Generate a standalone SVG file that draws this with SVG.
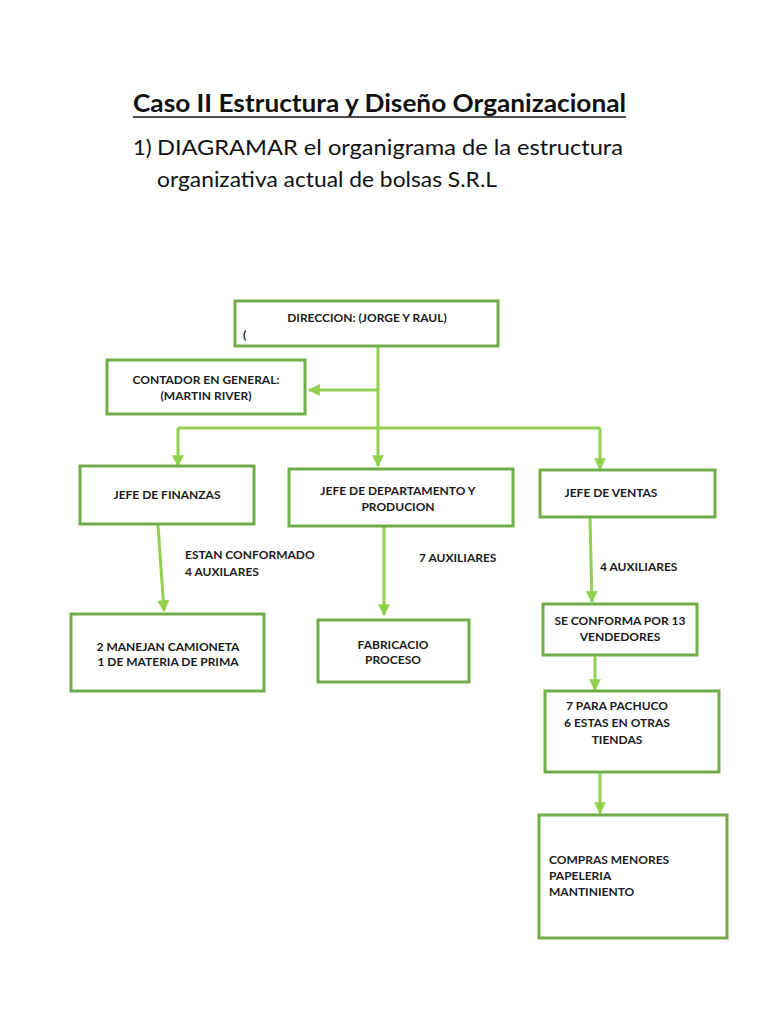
<svg xmlns="http://www.w3.org/2000/svg" width="768" height="1024" viewBox="0 0 768 1024">
<style>
.box{fill:#fff;stroke:#70AD47;stroke-width:3}
.c{fill:none;stroke:#92D050;stroke-width:3}
.t{font-family:Lato,"Open Sans",sans-serif;font-weight:bold;font-size:12px;fill:#1b1b1b}
.m{text-anchor:middle}
.h{font-family:Lato,"Open Sans",sans-serif;fill:#111}
</style>
<defs>
<marker id="ah" viewBox="0 0 10 10" refX="9" refY="5" markerWidth="4" markerHeight="4" orient="auto" markerUnits="strokeWidth">
<path d="M0,0 L10,5 L0,10 z" fill="#92D050"/>
</marker>
</defs>
<rect width="768" height="1024" fill="#fff"/>
<g id="title">
<text class="h" x="133" y="112" font-size="24" font-weight="bold" textLength="493" lengthAdjust="spacingAndGlyphs">Caso II Estructura y Diseño Organizacional</text>
<line x1="133" y1="117" x2="626" y2="117" stroke="#111" stroke-width="1.6"/>
<text class="h" x="133" y="155" font-size="22">1)</text>
<text class="h" x="157" y="155" font-size="22" textLength="466" lengthAdjust="spacingAndGlyphs">DIAGRAMAR el organigrama de la estructura</text>
<text class="h" x="157" y="187" font-size="22" textLength="340" lengthAdjust="spacingAndGlyphs">organizativa actual de bolsas S.R.L</text>
</g>
<g id="connectors">
<path class="c" d="M378,346 V428"/>
<path class="c" d="M378,390 H309" marker-end="url(#ah)"/>
<path class="c" d="M178,428 H600"/>
<path class="c" d="M178,428 V466" marker-end="url(#ah)"/>
<path class="c" d="M378,428 V466" marker-end="url(#ah)"/>
<path class="c" d="M600,428 V469" marker-end="url(#ah)"/>
<path class="c" d="M158,525 L164,611" marker-end="url(#ah)"/>
<path class="c" d="M384,527 V615" marker-end="url(#ah)"/>
<path class="c" d="M590,518 L592,602" marker-end="url(#ah)"/>
<path class="c" d="M595,656 V690" marker-end="url(#ah)"/>
<path class="c" d="M600,773 V813" marker-end="url(#ah)"/>
<text class="t" x="185" y="559">ESTAN CONFORMADO</text>
<text class="t" x="185" y="576">4 AUXILARES</text>
<text class="t" x="419" y="562">7 AUXILIARES</text>
<text class="t" x="600" y="571">4 AUXILIARES</text>
</g>
<g id="direccion">
<rect class="box" x="235" y="301" width="263" height="45"/>
<text class="t m" x="367" y="322">DIRECCION: (JORGE Y RAUL)</text>
<text class="t" x="243" y="339">(</text>
</g>
<g id="contador">
<rect class="box" x="107" y="360" width="198" height="54"/>
<text class="t m" x="206" y="384">CONTADOR EN GENERAL:</text>
<text class="t m" x="206" y="400">(MARTIN RIVER)</text>
</g>
<g id="finanzas">
<rect class="box" x="80" y="466" width="174" height="58"/>
<text class="t m" x="167" y="499">JEFE DE FINANZAS</text>
</g>
<g id="departamento">
<rect class="box" x="289" y="469" width="224" height="57"/>
<text class="t m" x="398" y="495">JEFE DE DEPARTAMENTO Y</text>
<text class="t m" x="398" y="511">PRODUCION</text>
</g>
<g id="ventas">
<rect class="box" x="540" y="470" width="175" height="47"/>
<text class="t m" x="611" y="497">JEFE DE VENTAS</text>
</g>
<g id="camioneta">
<rect class="box" x="71" y="614" width="193" height="77"/>
<text class="t m" x="168" y="651">2 MANEJAN CAMIONETA</text>
<text class="t m" x="168" y="666">1 DE MATERIA DE PRIMA</text>
</g>
<g id="fabricacio">
<rect class="box" x="318" y="620" width="151" height="62"/>
<text class="t m" x="393" y="649">FABRICACIO</text>
<text class="t m" x="393" y="664">PROCESO</text>
</g>
<g id="vendedores">
<rect class="box" x="543" y="604" width="154" height="51"/>
<text class="t m" x="620" y="625">SE CONFORMA POR 13</text>
<text class="t m" x="620" y="641">VENDEDORES</text>
</g>
<g id="pachuco">
<rect class="box" x="545" y="691" width="174" height="81"/>
<text class="t m" x="617" y="710">7 PARA PACHUCO</text>
<text class="t m" x="617" y="727">6 ESTAS EN OTRAS</text>
<text class="t m" x="617" y="744">TIENDAS</text>
</g>
<g id="compras">
<rect class="box" x="539" y="815" width="188" height="123"/>
<text class="t" x="549" y="864">COMPRAS MENORES</text>
<text class="t" x="549" y="880">PAPELERIA</text>
<text class="t" x="549" y="896">MANTINIENTO</text>
</g>
</svg>
